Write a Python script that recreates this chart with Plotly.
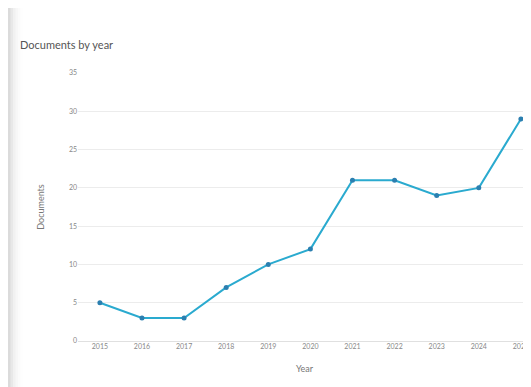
import plotly.graph_objects as go

years = ["2015", "2016", "2017", "2018", "2019", "2020", "2021", "2022", "2023", "2024", "2025"]
documents = [5, 3, 3, 7, 10, 12, 21, 21, 19, 20, 29]
y_ticks = [0, 5, 10, 15, 20, 25, 30, 35]

W, H = 523, 379
L = 70
fig = go.Figure()
fig.add_trace(go.Scatter(
    x=years, y=documents, mode="lines+markers",
    line=dict(color="#2aaacf", width=2),
    marker=dict(color="#2b7fb0", size=5),
    hoverinfo="x+y", showlegend=False,
))

# soft card shadow at left edge
shapes = []
for i, op in enumerate([0.05, 0.035, 0.025, 0.015, 0.01, 0.005]):
    shapes.append(dict(type="rect", xref="paper", yref="paper",
                       x0=-L / (W - L), x1=(-L + (i + 1) * 2.5) / (W - L), y0=-1, y1=2,
                       fillcolor="#000000", opacity=op, line_width=0, layer="below"))

fig.update_layout(
    width=W, height=H,
    margin=dict(l=L, r=0, t=65, b=46),
    paper_bgcolor="white", plot_bgcolor="white",
    font=dict(family="Lato, 'Noto Sans', sans-serif", color="#777"),
    title=dict(text="Documents by year", x=12 / W, xanchor="left", y=1 - 37 / H, yanchor="middle",
               font=dict(size=11, color="#555")),
    xaxis=dict(type="category", range=[-0.52, 10.24], showgrid=False, zeroline=False,
               showline=False, ticks="", tickfont=dict(size=7, color="#888"),
               title=dict(text="Year", font=dict(size=9, color="#777"), standoff=16)),
    yaxis=dict(range=[0, 35], tickvals=y_ticks, showgrid=True, gridcolor="#ececec", gridwidth=1,
               zeroline=True, zerolinecolor="#e0e0e0", zerolinewidth=1, showline=False, ticks="",
               tickfont=dict(size=7, color="#888"),
               title=dict(text="Documents", font=dict(size=9, color="#777"), standoff=22)),
    shapes=shapes,
)
fig.write_html("out.html")
